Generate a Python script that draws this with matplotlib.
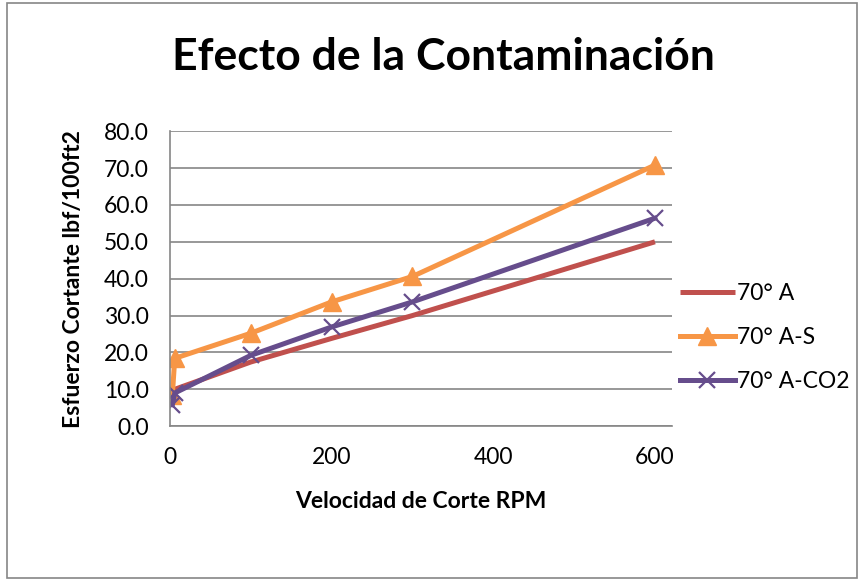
import matplotlib
matplotlib.use("Agg")
import matplotlib.pyplot as plt
from matplotlib.patches import Rectangle

rpm = [600, 300, 200, 100, 6, 3]
serie_a = [50.0, 30.0, 23.8, 17.4, 10.0, 6.5]
serie_as = [70.8, 40.6, 33.7, 25.2, 18.4, 8.5]
serie_aco2 = [56.4, 33.7, 26.9, 19.2, 9.0, 5.8]
nombres = ["70° A", "70° A-S", "70° A-CO2"]

plt.rcParams['font.family'] = ['Lato', 'DejaVu Sans']

fig = plt.figure(figsize=(8.67, 5.83), dpi=100)
fig.patches.append(Rectangle((0.008, 0.008), 0.98, 0.986, transform=fig.transFigure,
                             fill=False, edgecolor='#868686', linewidth=1.2))

ax = fig.add_axes([0.196, 0.269, 0.579, 0.506])
ax.plot(rpm, serie_a, color='#C0504D', linewidth=3.6, solid_capstyle='butt', label=nombres[0])
ax.plot(rpm, serie_as, color='#F79646', linewidth=3.6, marker='^', markersize=13,
        label=nombres[1])
ax.plot(rpm, serie_aco2, color='#664D8C', linewidth=3.6, marker='x', markersize=12,
        markeredgewidth=1.6, label=nombres[2])

ax.set_xlim(0, 621)
ax.set_ylim(0, 80)
ax.set_xticks([0, 200, 400, 600])
ax.set_yticks(range(0, 81, 10))
ax.set_yticklabels(["{0:.1f}".format(v) for v in range(0, 81, 10)])
ax.tick_params(axis='y', length=0, labelsize=16.5, pad=15)
ax.tick_params(axis='x', length=0, labelsize=16.5, pad=15)
ax.grid(True, axis='y', color='#868686', linewidth=1.2)
ax.set_axisbelow(True)
for s in ['top', 'right']:
    ax.spines[s].set_visible(False)
for s in ['left', 'bottom']:
    ax.spines[s].set_color('#868686')
    ax.spines[s].set_linewidth(1.2)

ax.set_xlabel("Velocidad de Corte RPM", fontsize=16.5, fontweight='bold')
ax.set_ylabel("Esfuerzo Cortante lbf/100ft2", fontsize=16.5, fontweight='bold')
ax.xaxis.set_label_coords(0.5, -0.22)
ax.yaxis.set_label_coords(-0.172, 0.5)
fig.text(0.511, 0.902, "Efecto de la Contaminación", ha='center', va='center',
         fontsize=32, fontweight='bold')

ax.legend(loc='center left', bbox_to_anchor=(1.016, 0.30), frameon=False, fontsize=16.5,
          handlelength=2.4, labelspacing=1.0, handletextpad=0.1, borderpad=0,
          borderaxespad=0)

plt.savefig("out.png", dpi=100)
